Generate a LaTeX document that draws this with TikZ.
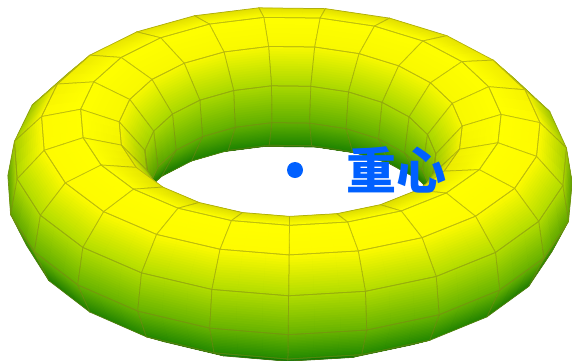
\documentclass[tikz,border=0pt]{standalone}
\usepackage{fontspec}
\newfontfamily\cjk{Noto Sans CJK SC}
\definecolor{markblue}{HTML}{0060FF}
\tikzset{
  labeltext/.style={text=markblue,font=\cjk\bfseries\fontsize{50}{50}\selectfont,inner sep=0pt},
  centredot/.style={circle,fill=markblue,minimum size=16pt,inner sep=0pt}
}
% parameters (pixels)
\def\Rr{212}\def\rr{72}\def\elev{30}\def\dist{9000}\def\cx{290}\def\cy{181.5}\def\roll{0.7}\def\vzero{26}
\def\Nu{23}\def\Nv{11}\def\Sn{3}\def\Kn{16}
\newcommand\gset[2]{\expandafter\xdef\csname #1\endcsname{#2}}
\newcommand\gv[1]{\csname #1\endcsname}
\newcount\ca \newcount\cb
\makeatletter
\edef\NN{\the\numexpr\Sn*\Kn\relax}
\edef\NNc{\the\numexpr4*\Sn*\Kn\relax}
\def\bilv#1#2#3#4#5#6{\dimexpr#3pt*\numexpr(\Sn-#1)*(\Kn-#2)\relax/\NN+#4pt*\numexpr(#1)*(\Kn-#2)\relax/\NN+#5pt*\numexpr(#1)*(#2)\relax/\NN+#6pt*\numexpr(\Sn-#1)*(#2)\relax/\NN\relax}
\def\bilp#1#2{\pgfqpoint{\bilv{#1}{#2}\Ax\Bx\Cx\Dx}{-\bilv{#1}{#2}\Ay\By\Cy\Dy}}
\def\bilc#1#2#3#4{\strip@pt\dimexpr#1pt*\numexpr(2*\Sn-\wa)*(2*\Kn-\wb)\relax/\NNc+#2pt*\numexpr(\wa)*(2*\Kn-\wb)\relax/\NNc+#3pt*\numexpr(\wa)*(\wb)\relax/\NNc+#4pt*\numexpr(2*\Sn-\wa)*(\wb)\relax/\NNc\relax}
\newcommand\onepatch{%
  \edef\sA{\the\ca}\edef\sB{\ifnum\ca<\numexpr\Sn-1\relax\the\numexpr\ca+2\relax\else\Sn\fi}%
  \edef\tA{\the\cb}\edef\tB{\ifnum\cb<\numexpr\Kn-1\relax\the\numexpr\cb+2\relax\else\Kn\fi}%
  \edef\wa{\the\numexpr2*\ca+1\relax}\edef\wb{\the\numexpr2*\cb+1\relax}%
  \edef\colR{\bilc\Ar\Br\Cr\Dr}\edef\colG{\bilc\Ag\Bg\Cg\Dg}%
  \pgfscope
  \pgfsys@color@rgb{\colR}{\colG}{0}%
  \pgfpathmoveto{\bilp\sA\tA}\pgfpathlineto{\bilp\sB\tA}\pgfpathlineto{\bilp\sB\tB}\pgfpathlineto{\bilp\sA\tB}\pgfpathclose
  \pgfusepath{fill}%
  \endpgfscope}
\newcommand\innerloop{\cb=0
    \loop\ifnum\cb<\Kn \onepatch\advance\cb by 1 \repeat}
\newcommand\quadfill{%
  \pgfscope
  \ca=0
  \loop\ifnum\ca<\Sn
    \begingroup\innerloop\endgroup
    \advance\ca by 1
  \repeat
  \endpgfscope}
\newcommand\lineseg[6]{% x1 y1 x2 y2 r g
  \edef\lr{\strip@pt\dimexpr.25pt+#5pt/2\relax}\edef\lg{\strip@pt\dimexpr.25pt+#6pt/2\relax}%
  \pgfscope\pgfsys@color@rgb{\lr}{\lg}{.05}%
  \pgfpathmoveto{\pgfqpoint{#1}{-#2}}\pgfpathlineto{\pgfqpoint{#3}{-#4}}\pgfusepath{stroke}\endpgfscope}
\def\mixv#1#2#3{\dimexpr#1pt*\numexpr4-(#3)\relax/4+#2pt*\numexpr#3\relax/4\relax}
\def\mixm#1#2#3{\strip@pt\dimexpr#1pt*\numexpr7-2*(#3)\relax/8+#2pt*\numexpr1+2*(#3)\relax/8\relax}
\newcommand\vsub[9]{% x0 y0 r0 g0 x1 y1 r1 g1 k
  \edef\mr{\mixm{#3}{#7}{#9}}\edef\mg{\mixm{#4}{#8}{#9}}%
  \lineseg{\mixv{#1}{#5}{#9}}{\mixv{#2}{#6}{#9}}{\mixv{#1}{#5}{#9+1}}{\mixv{#2}{#6}{#9+1}}{\mr}{\mg}}
\newcommand\quadedges{%
  \pgfscope\pgfsetlinewidth{.75pt}\pgfsetroundcap
  \lineseg{\Ax pt}{\Ay pt}{\Bx pt}{\By pt}{\Ar}{\Ag}%
  \lineseg{\Dx pt}{\Dy pt}{\Cx pt}{\Cy pt}{\Dr}{\Dg}%
  \vsub\Ax\Ay\Ar\Ag\Dx\Dy\Dr\Dg0\vsub\Ax\Ay\Ar\Ag\Dx\Dy\Dr\Dg1\vsub\Ax\Ay\Ar\Ag\Dx\Dy\Dr\Dg2\vsub\Ax\Ay\Ar\Ag\Dx\Dy\Dr\Dg3%
  \vsub\Bx\By\Br\Bg\Cx\Cy\Cr\Cg0\vsub\Bx\By\Br\Bg\Cx\Cy\Cr\Cg1\vsub\Bx\By\Br\Bg\Cx\Cy\Cr\Cg2\vsub\Bx\By\Br\Bg\Cx\Cy\Cr\Cg3%
  \endpgfscope}
\makeatother
\newcommand\loadquad[2]{%
  \pgfmathtruncatemacro\ip{#1+1}\pgfmathtruncatemacro\jp{#2+1}%
  \edef\Ax{\gv{X-#1-#2}}\edef\Ay{\gv{Y-#1-#2}}\edef\Ar{\gv{R-#1-#2}}\edef\Ag{\gv{G-#1-#2}}%
  \edef\Bx{\gv{X-\ip-#2}}\edef\By{\gv{Y-\ip-#2}}\edef\Br{\gv{R-\ip-#2}}\edef\Bg{\gv{G-\ip-#2}}%
  \edef\Cx{\gv{X-\ip-\jp}}\edef\Cy{\gv{Y-\ip-\jp}}\edef\Cr{\gv{R-\ip-\jp}}\edef\Cg{\gv{G-\ip-\jp}}%
  \edef\Dx{\gv{X-#1-\jp}}\edef\Dy{\gv{Y-#1-\jp}}\edef\Dr{\gv{R-#1-\jp}}\edef\Dg{\gv{G-#1-\jp}}%
  \pgfmathsetmacro\cross{0.01*((\Cx-\Ax)*(\Dy-\By)-(\Cy-\Ay)*(\Dx-\Bx))}}
\begin{document}
\begin{tikzpicture}[x=1pt,y=-1pt]
\useasboundingbox (0,0) rectangle (572,360);
% vertices
\foreach \i in {0,...,\Nu}{\foreach \j in {0,...,\Nv}{%
  \pgfmathsetmacro\uu{-90+\i*360/\Nu}\pgfmathsetmacro\vv{\vzero+\j*360/\Nv}%
  \pgfmathsetmacro\w{\Rr+\rr*cos(\vv)}%
  \pgfmathsetmacro\xx{\w*cos(\uu)}\pgfmathsetmacro\yy{\w*sin(\uu)}\pgfmathsetmacro\zz{\rr*sin(\vv)}%
  \pgfmathsetmacro\ss{\zz*cos(\elev)+\yy*sin(\elev)}\pgfmathsetmacro\tt{\zz*sin(\elev)-\yy*cos(\elev)}%
  \pgfmathsetmacro\ff{\dist/(\dist-\tt)}%
  \pgfmathsetmacro\Xo{\ff*\xx}\pgfmathsetmacro\Yo{\ff*\ss}%
  \pgfmathsetmacro\PX{\cx+\Xo*cos(\roll)+\Yo*sin(\roll)}%
  \pgfmathsetmacro\PY{\cy-(\Yo*cos(\roll)-\Xo*sin(\roll))}%
  \pgfmathsetmacro\nz{sin(\vv)}%
  \pgfmathsetmacro\face{abs(-cos(\vv)*sin(\uu)*cos(\elev)+sin(\vv)*sin(\elev))}%
  \pgfmathsetmacro\dimf{.88+.12*min(1,\face/.4)}%
  \pgfmathsetmacro\cR{\dimf*max(0,min(1,max(.46+.5*\nz,.38+.72*\nz)))}%
  \pgfmathsetmacro\cG{\dimf*max(0,min(1,.735+.29*\nz))}%
  \gset{X-\i-\j}{\PX}\gset{Y-\i-\j}{\PY}\gset{R-\i-\j}{\cR}\gset{G-\i-\j}{\cG}%
}}
% back to front, fills then mesh of each sector
\foreach \i in {11,10,12,9,13,8,14,7,15,6,16,5,17,4,18,3,19,2,20,1,21,0,22}{%
  \pgfmathtruncatemacro\Nvm{\Nv-1}%
  \foreach \j in {0,...,\Nvm}{\loadquad{\i}{\j}\pgfmathparse{\cross<0?1:0}\ifnum\pgfmathresult=1 \quadfill\fi}%
  \foreach \j in {0,...,\Nvm}{\loadquad{\i}{\j}\pgfmathparse{\cross<0?1:0}\ifnum\pgfmathresult=1 \quadedges\fi}%
}
\node[centredot] (dot) at (295,170) {};
\node[labeltext] (lab) at (396,170) {重心};
\end{tikzpicture}
\end{document}
